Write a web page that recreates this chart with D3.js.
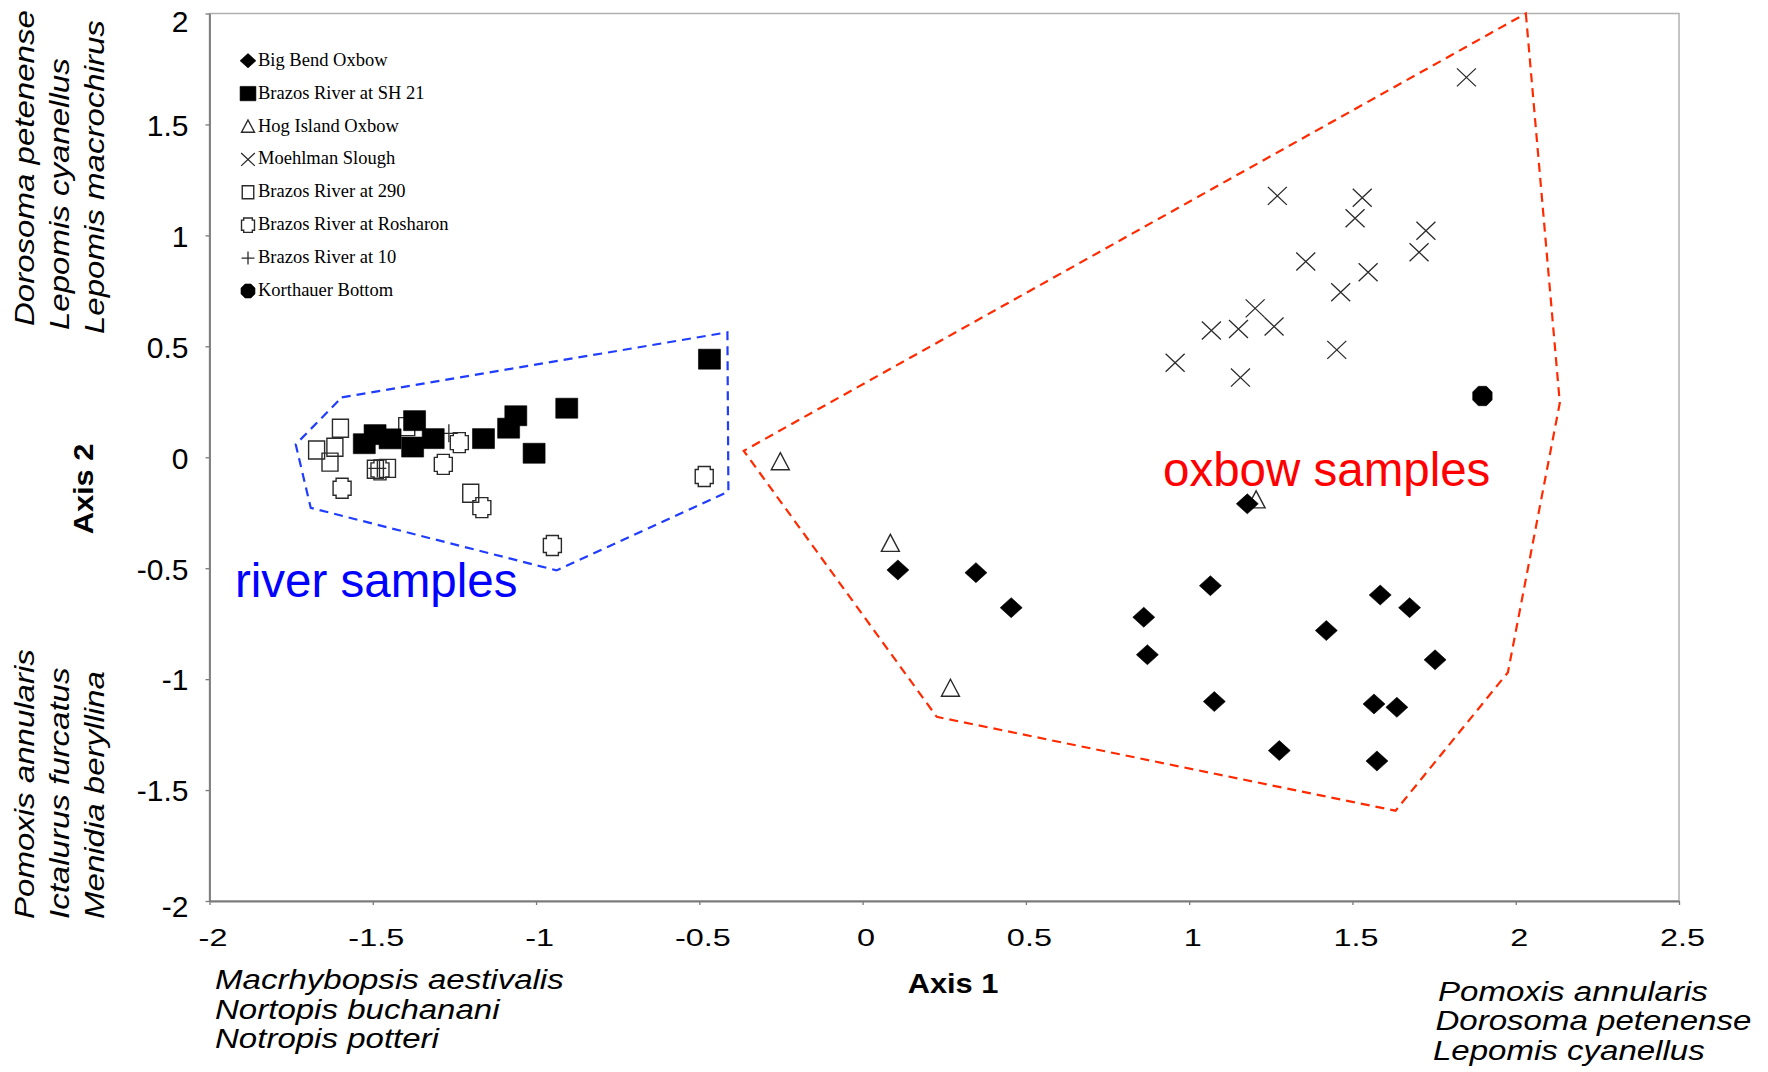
<!DOCTYPE html>
<html><head><meta charset="utf-8">
<script src="https://cdn.jsdelivr.net/npm/d3@7"></script>
<style>body{margin:0;background:#fff}svg{display:block}</style>
</head><body>
<svg id="c" width="1768" height="1072"></svg>
<script>
// ---------- data ----------
const xTicks = [-2, -1.5, -1, -0.5, 0, 0.5, 1, 1.5, 2, 2.5];
const xTickLabels = ["-2", "-1.5", "-1", "-0.5", "0", "0.5", "1", "1.5", "2", "2.5"];
const yTicks = [-2, -1.5, -1, -0.5, 0, 0.5, 1, 1.5, 2];
const yTickLabels = ["-2", "-1.5", "-1", "-0.5", "0", "0.5", "1", "1.5", "2"];

const legendNames = ["Big Bend Oxbow", "Brazos River at SH 21", "Hog Island Oxbow", "Moehlman Slough",
  "Brazos River at 290", "Brazos River at Rosharon", "Brazos River at 10", "Korthauer Bottom"];
const legendShapes = ["diamond", "filledSquare", "triangle", "cross", "openSquare", "notched", "plus", "octagon"];

// [Axis 1, Axis 2]
const bigBendOxbow = [[1.178,-0.210],[1.065,-0.579],[0.861,-0.721],[0.872,-0.890],[1.077,-1.101],[1.276,-1.322],
  [1.420,-0.781],[1.585,-0.621],[1.675,-0.678],[1.753,-0.913],[1.566,-1.112],[1.636,-1.127],[1.575,-1.369],
  [0.108,-0.508],[0.347,-0.520],[0.455,-0.678]];
const brazosSH21 = [[-1.526,0.061],[-1.493,0.102],[-1.447,0.083],[-1.372,0.165],[-1.378,0.046],[-1.315,0.084],
  [-1.161,0.084],[-1.084,0.131],[-1.062,0.187],[-1.006,0.018],[-0.906,0.221],[-0.469,0.442]];
const hogIslandOxbow = [[-0.252,-0.020],[0.085,-0.388],[0.269,-1.041],[1.205,-0.192]];
const moehlmanSlough = [[1.849,1.712],[1.270,1.178],[1.530,1.170],[1.508,1.077],[1.725,1.021],[1.704,0.924],
  [1.357,0.882],[1.548,0.834],[1.464,0.744],[1.202,0.671],[1.068,0.571],[1.151,0.578],[1.260,0.589],
  [1.452,0.484],[0.957,0.426],[1.157,0.359]];
const brazos290 = [[-1.599,0.131],[-1.672,0.033],[-1.616,0.045],[-1.631,-0.022],[-1.396,0.138],[-1.455,-0.050],
  [-1.200,-0.162],[-1.492,-0.054]];
const brazosRosharon = [[-1.594,-0.140],[-1.284,-0.032],[-1.235,0.066],[-1.166,-0.227],[-0.485,-0.087],
  [-0.950,-0.398],[-1.478,-0.057]];
const brazos10 = [[-1.267,0.108],[-1.486,-0.050]];
const korthauerBottom = [[1.898,0.276]];

const riverHull = [[-1.595,0.270],[-0.414,0.563],[-0.411,-0.155],[-0.937,-0.510],[-1.690,-0.228],[-1.736,0.058]];
const oxbowHull = [[2.031,2.0],[2.135,0.245],[1.976,-0.970],[1.632,-1.593],[0.227,-1.170],[-0.364,0.029]];

const yTopSpecies = ["Dorosoma petenense", "Lepomis cyanellus", "Lepomis macrochirus"];
const yBottomSpecies = ["Pomoxis annularis", "Ictalurus furcatus", "Menidia beryllina"];
const xLeftSpecies = ["Macrhybopsis aestivalis", "Nortopis buchanani", "Notropis potteri"];
const xRightSpecies = ["Pomoxis annularis", "Dorosoma petenense", "Lepomis cyanellus"];

// ---------- drawing ----------
const svg = d3.select("#c");
const x = d3.scaleLinear().domain([-2, 2.5]).range([209.5, 1679]);
const y = d3.scaleLinear().domain([-2, 2]).range([901, 13.5]);

// frame
svg.append("rect").attr("x", x(-2)).attr("y", y(2)).attr("width", x(2.5) - x(-2)).attr("height", y(-2) - y(2))
  .attr("fill", "none").attr("stroke", "#b0b0b0").attr("stroke-width", 1.5);

const gx = svg.append("g").attr("transform", `translate(0,${y(-2)})`)
  .call(d3.axisBottom(x).tickValues(xTicks).tickFormat((d, i) => xTickLabels[i]).tickSize(4).tickSizeOuter(0));
gx.select(".domain").attr("stroke", "#7a7a7a").attr("stroke-width", 1.8);
gx.selectAll(".tick line").attr("stroke", "#7a7a7a").attr("stroke-width", 1.3);
gx.selectAll(".tick text").attr("y", 45.5).attr("dy", 0).attr("fill", "#000")
  .attr("font-family", "'Liberation Sans', Arial, sans-serif").attr("font-size", 24)
  .attr("transform", "translate(3,0) scale(1.35,1)");

const gy = svg.append("g").attr("transform", `translate(${x(-2)},0)`)
  .call(d3.axisLeft(y).tickValues(yTicks).tickFormat((d, i) => yTickLabels[i]).tickSize(4).tickSizeOuter(0));
gy.select(".domain").attr("stroke", "#7a7a7a").attr("stroke-width", 1.8);
gy.selectAll(".tick line").attr("stroke", "#7a7a7a").attr("stroke-width", 1.3);
gy.selectAll(".tick text").attr("x", -21).attr("dy", "0.36em").attr("fill", "#000")
  .attr("font-family", "'Liberation Sans', Arial, sans-serif").attr("font-size", 30)
  .attr("y", d => d === 2 ? 7 : (d === -2 ? 5 : 0));

// hulls
const hullLine = d3.line().x(d => x(d[0])).y(d => y(d[1])).curve(d3.curveLinearClosed);
svg.append("path").attr("d", hullLine(riverHull)).attr("fill", "none").attr("stroke", "#1f3cff")
  .attr("stroke-width", 2.2).attr("stroke-dasharray", "9,6");
svg.append("path").attr("d", hullLine(oxbowHull)).attr("fill", "none").attr("stroke", "#ff2a00")
  .attr("stroke-width", 2.2).attr("stroke-dasharray", "9,6");

// marker shapes (s = scale)
function shapePath(kind, s) {
  const p = d3.path();
  switch (kind) {
    case "diamond": p.moveTo(0,-10*s); p.lineTo(11*s,0); p.lineTo(0,10*s); p.lineTo(-11*s,0); p.closePath(); break;
    case "filledSquare": p.rect(-11*s,-10*s,22*s,20*s); break;
    case "triangle": p.moveTo(0,-9*s); p.lineTo(9*s,8*s); p.lineTo(-9*s,8*s); p.closePath(); break;
    case "cross": p.moveTo(-9.5*s,-9*s); p.lineTo(9.5*s,9*s); p.moveTo(9.5*s,-9*s); p.lineTo(-9.5*s,9*s); break;
    case "openSquare": p.rect(-8*s,-9*s,16*s,18*s); break;
    case "notched": {
      const w = 9*s, h = 10*s, n = 3*s;
      p.moveTo(-w+n,-h); p.lineTo(w-n,-h); p.lineTo(w-n,-h+n); p.lineTo(w,-h+n); p.lineTo(w,h-n);
      p.lineTo(w-n,h-n); p.lineTo(w-n,h); p.lineTo(-w+n,h); p.lineTo(-w+n,h-n); p.lineTo(-w,h-n);
      p.lineTo(-w,-h+n); p.lineTo(-w+n,-h+n); p.closePath(); break;
    }
    case "plus": p.moveTo(-9*s,0); p.lineTo(9*s,0); p.moveTo(0,-9*s); p.lineTo(0,9*s); break;
    case "octagon": {
      const r = 10.5*s;
      for (let i = 0; i < 8; i++) {
        const a = Math.PI/8 + i*Math.PI/4;
        if (i === 0) p.moveTo(r*Math.cos(a), r*Math.sin(a)); else p.lineTo(r*Math.cos(a), r*Math.sin(a));
      }
      p.closePath(); break;
    }
  }
  return p.toString();
}
const filledKinds = new Set(["diamond", "filledSquare", "octagon"]);
function styleMarker(sel, kind) {
  if (filledKinds.has(kind)) sel.attr("fill", "#000").attr("stroke", "#000").attr("stroke-width", 0.6);
  else sel.attr("fill", "none").attr("stroke", "#2a2a2a").attr("stroke-width", kind === "cross" || kind === "plus" ? 1.3 : 1.4);
}
function drawSeries(data, kind, s) {
  const sel = svg.append("g").selectAll("path").data(data).join("path")
    .attr("d", shapePath(kind, s))
    .attr("transform", d => `translate(${x(d[0])},${y(d[1])})`);
  styleMarker(sel, kind);
}
drawSeries(brazos290, "openSquare", 1);
drawSeries(brazosRosharon, "notched", 1);
drawSeries(brazos10, "plus", 1);
drawSeries(hogIslandOxbow, "triangle", 1);
drawSeries(moehlmanSlough, "cross", 1);
drawSeries(brazosSH21, "filledSquare", 1);
drawSeries(bigBendOxbow, "diamond", 1);
drawSeries(korthauerBottom, "octagon", 1);

// legend
const lg = svg.append("g");
legendNames.forEach((name, i) => {
  const by = 65.7 + i * 32.9;
  const m = lg.append("path").attr("d", shapePath(legendShapes[i], 0.72))
    .attr("transform", `translate(248,${by - 5})`);
  styleMarker(m, legendShapes[i]);
  lg.append("text").attr("x", 258).attr("y", by).text(name)
    .attr("font-family", "'Liberation Serif', 'Times New Roman', serif").attr("font-size", 18.5).attr("fill", "#000");
});

// region labels
svg.append("text").attr("x", 1163).attr("y", 486).text("oxbow samples")
  .attr("font-family", "'Liberation Sans', Arial, sans-serif").attr("font-size", 47.5).attr("fill", "#ff0000");
svg.append("text").attr("x", 235).attr("y", 597).text("river samples")
  .attr("font-family", "'Liberation Sans', Arial, sans-serif").attr("font-size", 47.5).attr("fill", "#0000ff");

// axis titles
svg.append("text").attr("transform", "translate(953,993) scale(1.1,1)").attr("text-anchor", "middle")
  .attr("font-family", "'Liberation Sans', Arial, sans-serif").attr("font-weight", "bold").attr("font-size", 28).text("Axis 1");
svg.append("text").attr("transform", "translate(93,489) rotate(-90) scale(1.1,1)").attr("text-anchor", "middle")
  .attr("font-family", "'Liberation Sans', Arial, sans-serif").attr("font-weight", "bold").attr("font-size", 28).text("Axis 2");

// species labels
const spFont = "'Liberation Sans', Arial, sans-serif";
const spSize = 28, spStretch = 1.18;
yTopSpecies.forEach((t, i) => {
  svg.append("text").attr("transform", `translate(${34 + i * 35},${326 + i * 4}) rotate(-90) scale(${spStretch},1)`)
    .attr("font-family", spFont).attr("font-style", "italic").attr("font-size", spSize).text(t);
});
yBottomSpecies.forEach((t, i) => {
  svg.append("text").attr("transform", `translate(${34 + i * 35},919) rotate(-90) scale(${spStretch},1)`)
    .attr("font-family", spFont).attr("font-style", "italic").attr("font-size", spSize).text(t);
});
xLeftSpecies.forEach((t, i) => {
  svg.append("text").attr("transform", `translate(215,${989 + i * 29.5}) scale(${spStretch},1)`)
    .attr("font-family", spFont).attr("font-style", "italic").attr("font-size", spSize).text(t);
});
xRightSpecies.forEach((t, i) => {
  svg.append("text").attr("transform", `translate(${1438 - i * 2.5},${1000.5 + i * 29.5}) scale(${spStretch},1)`)
    .attr("font-family", spFont).attr("font-style", "italic").attr("font-size", spSize).text(t);
});
</script>
</body></html>
